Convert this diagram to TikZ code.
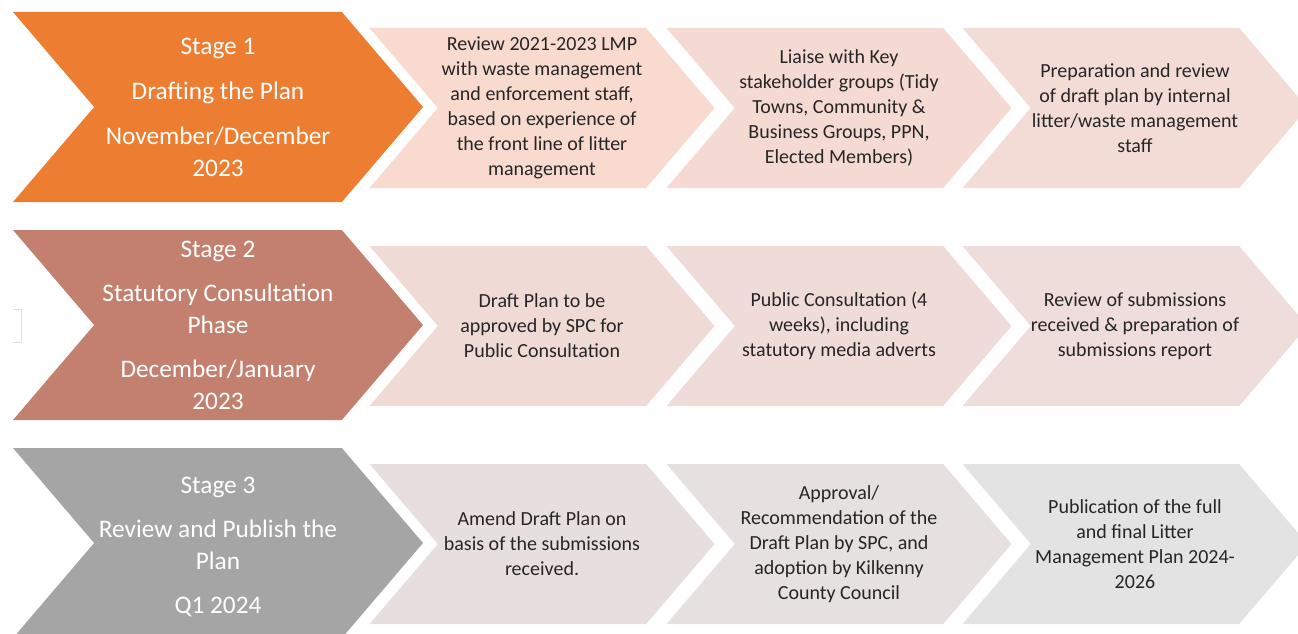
\documentclass[tikz,border=0pt]{standalone}
\usepackage{fontspec}
\setmainfont{Carlito}
\usetikzlibrary{shapes.symbols}
\usepackage{xcolor}

\definecolor{stageone}{HTML}{ED7D31}
\definecolor{stagetwo}{HTML}{C4806F}
\definecolor{stagethree}{HTML}{A5A5A5}
\definecolor{taskoneA}{HTML}{F8DACF}
\definecolor{taskoneB}{HTML}{F5DAD3}
\definecolor{taskoneC}{HTML}{F3DBD6}
\definecolor{tasktwoA}{HTML}{F0DAD5}
\definecolor{tasktwoB}{HTML}{EFDCD8}
\definecolor{tasktwoC}{HTML}{EEDDDA}
\definecolor{taskthreeA}{HTML}{E7DFDE}
\definecolor{taskthreeB}{HTML}{E6E0E0}
\definecolor{taskthreeC}{HTML}{E3E3E3}
\definecolor{tasktext}{HTML}{262626}

\begin{document}
\begin{tikzpicture}[
x=1pt, y=-1pt,
chevron/.style={signal,
signal from=west,
signal to=east,
signal pointer angle=99,
inner sep=0pt,
align=center},
stagebox/.style={chevron,
minimum width=410pt,
minimum height=190pt,
text=white,
font=\fontsize{25.3}{32}\selectfont},
taskbox/.style={chevron,
minimum width=345pt,
minimum height=160pt,
text=tasktext,
font=\fontsize{20}{25}\selectfont}
]
\useasboundingbox (0,0) rectangle (1298,634);

% stage 1
\node[stagebox, fill=stageone] (stage1) at (218,107) {Stage 1\\[13pt] Drafting the Plan\\[13pt] November/December\\ 2023};
\node[taskbox, fill=taskoneA] (task1a) at (542,108) {Review 2021-2023 LMP\\ with waste management\\ and enforcement staff,\\ based on experience of\\ the front line of litter\\ management};
\node[taskbox, fill=taskoneB] (task1b) at (839,108) {Liaise with Key\\ stakeholder groups (Tidy\\ Towns, Community \&\\ Business Groups, PPN,\\ Elected Members)};
\node[taskbox, fill=taskoneC] (task1c) at (1135,108) {Preparation and review\\ of draft plan by internal\\ litter/waste management\\ staff};

% stage 2
\node[stagebox, fill=stagetwo] (stage2) at (218,325) {Stage 2\\[12pt] Statutory Consultation\\ Phase\\[12pt] December/January\\ 2023};
\node[taskbox, fill=tasktwoA] (task2a) at (542,326) {Draft Plan to be\\ approved by SPC for\\ Public Consultation};
\node[taskbox, fill=tasktwoB] (task2b) at (839,326) {Public Consultation (4\\ weeks), including\\ statutory media adverts};
\node[taskbox, fill=tasktwoC] (task2c) at (1135,326) {Review of submissions\\ received \& preparation of\\ submissions report};
\draw[gray!25] (13,309) -- (21,309) -- (21,342) -- (13,342);

% stage 3
\node[stagebox, fill=stagethree] (stage3) at (218,543) {};
\node[text=white, font=\fontsize{25.3}{32}\selectfont, align=center] (stage3text) at (218,547) {Stage 3\\[12pt] Review and Publish the\\ Plan\\[12pt] Q1 2024};
\node[taskbox, fill=taskthreeA] (task3a) at (542,544) {Amend Draft Plan on\\ basis of the submissions\\ received.};
\node[taskbox, fill=taskthreeB] (task3b) at (839,544) {Approval/\\ Recommendation of the\\ Draft Plan by SPC, and\\ adoption by Kilkenny\\ County Council};
\node[taskbox, fill=taskthreeC] (task3c) at (1135,544) {Publication of the full\\ and final Litter\\ Management Plan 2024-\\ 2026};

\end{tikzpicture}
\end{document}
